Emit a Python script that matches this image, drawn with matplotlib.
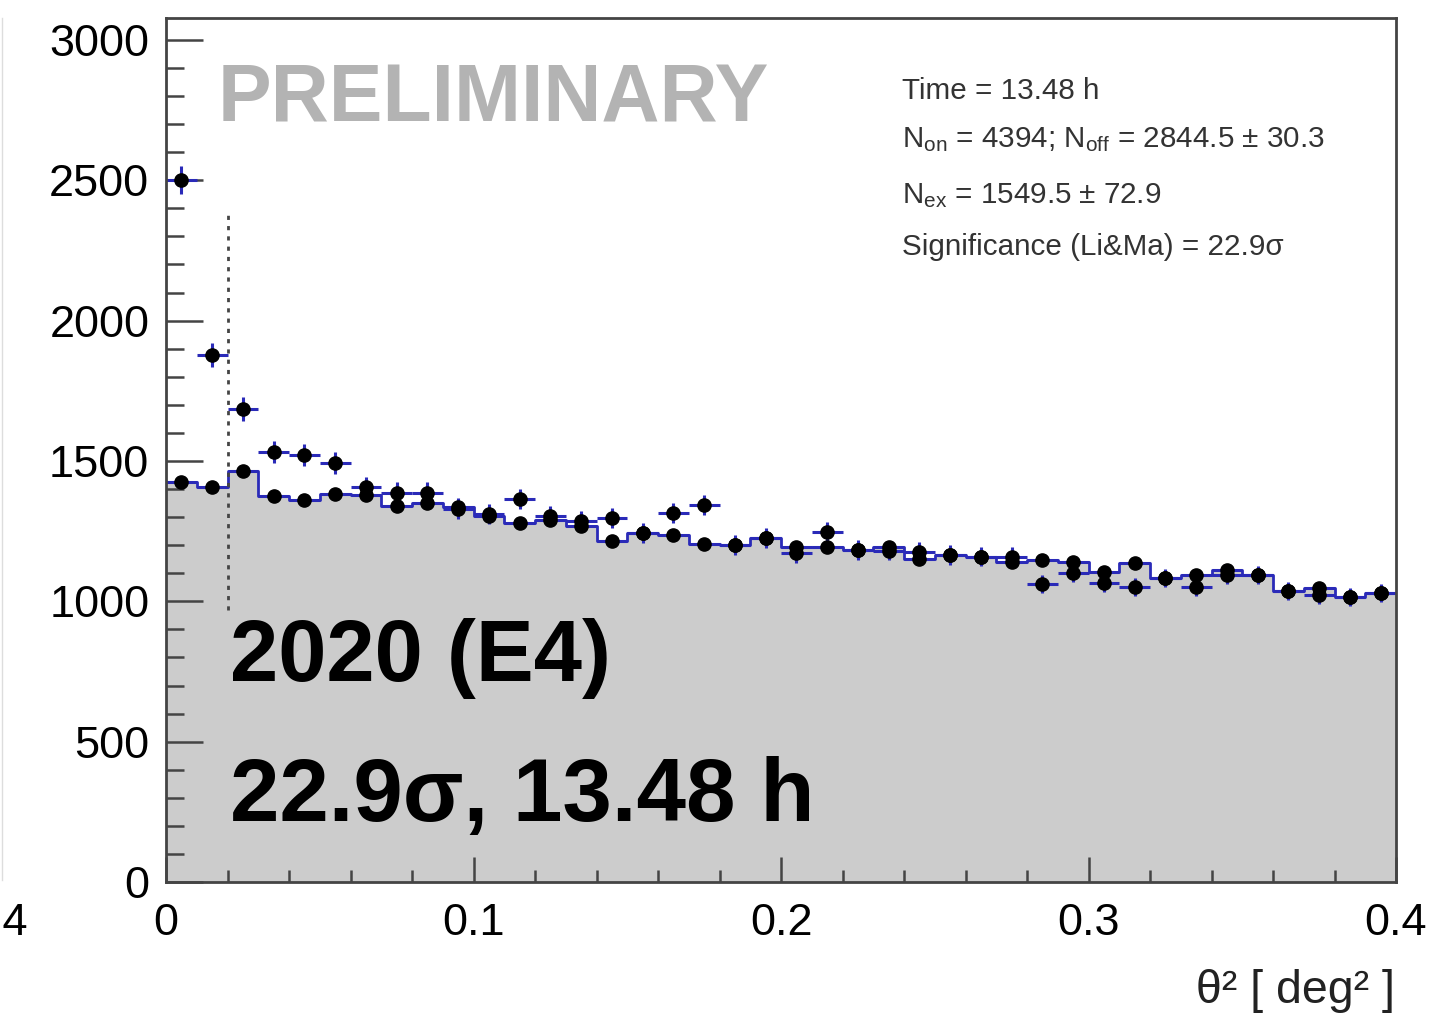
import numpy as np
import matplotlib
matplotlib.use("Agg")
import matplotlib.pyplot as plt
from matplotlib.ticker import MultipleLocator
from matplotlib.lines import Line2D

plt.rcParams['font.family'] = ['Liberation Sans', 'DejaVu Sans']
plt.rcParams['mathtext.fontset'] = 'custom'
plt.rcParams['mathtext.rm'] = 'Liberation Sans'
plt.rcParams['mathtext.it'] = 'Liberation Sans:italic'

# theta^2 bins (0.01 deg^2 wide)
bin_edges = np.arange(0, 0.4001, 0.01)
on_counts = [2500, 1877, 1685, 1532, 1521, 1493, 1407, 1386, 1386, 1330,
             1310, 1364, 1305, 1285, 1296, 1243, 1314, 1343, 1200, 1225,
             1172, 1247, 1183, 1180, 1176, 1165, 1158, 1158, 1062, 1101,
             1065, 1051, 1083, 1051, 1094, 1094, 1037, 1022, 1015, 1030]
off_counts = [1425, 1407, 1464, 1375, 1361, 1382, 1379, 1340, 1350, 1335,
              1305, 1280, 1290, 1270, 1215, 1243, 1236, 1204, 1200, 1225,
              1195, 1194, 1183, 1195, 1152, 1165, 1158, 1140, 1147, 1140,
              1105, 1137, 1083, 1094, 1111, 1094, 1037, 1049, 1015, 1030]
theta2_cut = 0.02
cut_line_y = [970, 2385]

stats_lines = ["Time = 13.48 h",
               r"N$_{\rm on}$ = 4394; N$_{\rm off}$ = 2844.5 $\pm$ 30.3",
               r"N$_{\rm ex}$ = 1549.5 $\pm$ 72.9",
               "Significance (Li&Ma) = 22.9σ"]
season_label = "2020 (E4)"
summary_label = "22.9σ, 13.48 h"

on = np.array(on_counts, dtype=float)
off = np.array(off_counts, dtype=float)
centers = 0.5 * (bin_edges[:-1] + bin_edges[1:])
half_w = 0.5 * np.diff(bin_edges)
on_err = np.sqrt(on)
off_err = np.sqrt(off / 3.0)

frame_col = '#444444'
blue = '#2a2ab8'

fig = plt.figure(figsize=(14.30, 10.17), dpi=100)
ax = fig.add_axes([166/1430, 135/1017, 1230/1430, 864/1017])

# background (off) histogram
ax.fill_between(bin_edges, np.append(off, off[-1]), step='post',
                color='#cccccc', lw=0, zorder=1)
ax.step(bin_edges, np.append(off, off[-1]), where='post', color=blue,
        lw=2.0, zorder=2)

for y, ye in [(off, off_err), (on, on_err)]:
    ax.errorbar(centers, y, xerr=half_w, yerr=ye, fmt='none', ecolor=blue,
                elinewidth=2.2, capsize=0, zorder=3)
    ax.plot(centers, y, 'o', color='black', ms=9.5, zorder=4)

ax.plot([theta2_cut, theta2_cut], cut_line_y, color='#444444', lw=2,
        ls=(0, (1.5, 2.2)), zorder=5)

ax.set_xlim(0, 0.4)
ax.set_ylim(0, 3078)

ax.xaxis.set_major_locator(MultipleLocator(0.1))
ax.xaxis.set_minor_locator(MultipleLocator(0.02))
ax.yaxis.set_major_locator(MultipleLocator(500))
ax.yaxis.set_minor_locator(MultipleLocator(100))
ax.xaxis.set_major_formatter(plt.FuncFormatter(lambda v, p: f"{v:g}"))

ax.tick_params(axis='both', which='both', direction='in', color=frame_col,
               width=1.8, labelsize=32.5, top=False, right=False)
ax.tick_params(axis='y', which='major', length=26.5, pad=12)
ax.tick_params(axis='y', which='minor', length=13)
ax.tick_params(axis='x', which='major', length=18, pad=15)
ax.tick_params(axis='x', which='minor', length=9)
for sp in ax.spines.values():
    sp.set_color(frame_col)
    sp.set_linewidth(2)
    sp.set_zorder(6)

ax.text(0.042, 0.880, "PRELIMINARY", transform=ax.transAxes, fontsize=58,
        fontweight='bold', color='#b3b3b3', va='baseline', zorder=7)
ax.text(0.052, 0.233, season_label, transform=ax.transAxes, fontsize=62.5,
        fontweight='bold', color='black', va='baseline', zorder=7)
ax.text(0.052, 0.071, summary_label, transform=ax.transAxes, fontsize=64,
        fontweight='bold', color='black', va='baseline', zorder=7)

stat_y = [0.906, 0.850, 0.786, 0.726]
for s, yy in zip(stats_lines, stat_y):
    ax.text(0.598, yy, s, transform=ax.transAxes, fontsize=21.3,
            color='#333333', va='baseline', zorder=7)

fig.text(1395/1430, 1 - 1003/1017, "θ² [ deg² ]", fontsize=33.5,
         ha='right', va='baseline', color='#222222')

# edge of the neighbouring pad
fig.text(28/1430, 1 - 935/1017, "0.4", fontsize=32.5, ha='right',
         va='baseline')
fig.add_artist(Line2D([1.5/1430, 1.5/1430], [1 - 880/1017, 1 - 18/1017],
                      transform=fig.transFigure, color='#dddddd', lw=1))

fig.savefig("out.png", dpi=100)
